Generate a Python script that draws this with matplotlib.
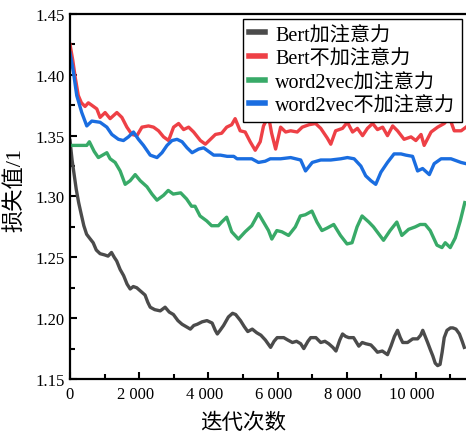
import numpy as np
import matplotlib
matplotlib.use("Agg")
import matplotlib.pyplot as plt
import matplotlib.transforms as mtransforms
from matplotlib.ticker import MultipleLocator, FuncFormatter

plt.rcParams['font.family'] = ['Liberation Serif', 'Noto Sans CJK SC']

# Bert加注意力
x_bert_att = [0, 60, 120, 180, 250, 320, 400, 480, 560, 670, 760, 870, 1000, 1100, 1200, 1280, 1350,
              1450, 1550, 1650, 1740, 1830, 1930, 2050, 2170, 2250, 2320, 2450, 2610, 2750, 2870, 2990,
              3120, 3240, 3360, 3480, 3580, 3680, 3820, 3960, 4110, 4200, 4260, 4340, 4440, 4580, 4700,
              4790, 4930, 5040, 5140, 5270, 5400, 5520, 5650, 5800, 5900, 5990, 6180, 6300, 6430, 6550,
              6670, 6760, 6880, 6960, 7110, 7250, 7370, 7480, 7600, 7690, 7800, 7880, 7970, 8060, 8200,
              8350, 8450, 8550, 8700, 8800, 8890, 9030, 9180, 9280, 9380, 9470, 9550, 9620, 9760, 9910,
              10050, 10140, 10200, 10270, 10340, 10420, 10490, 10560, 10630, 10700, 10760, 10820, 10900,
              11000, 11070, 11160, 11260, 11340, 11400]
y_bert_att = [1.346, 1.330, 1.318, 1.306, 1.295, 1.286, 1.276, 1.269, 1.266, 1.262, 1.256, 1.253, 1.252,
              1.251, 1.254, 1.250, 1.247, 1.240, 1.235, 1.228, 1.224, 1.226, 1.225, 1.222, 1.219, 1.213,
              1.209, 1.207, 1.206, 1.209, 1.205, 1.203, 1.198, 1.195, 1.193, 1.191, 1.194, 1.195, 1.197,
              1.198, 1.196, 1.190, 1.187, 1.190, 1.194, 1.201, 1.204, 1.203, 1.198, 1.193, 1.189, 1.191,
              1.188, 1.186, 1.182, 1.176, 1.181, 1.184, 1.184, 1.182, 1.180, 1.181, 1.179, 1.175, 1.181,
              1.184, 1.184, 1.180, 1.181, 1.179, 1.176, 1.173, 1.182, 1.187, 1.185, 1.184, 1.184, 1.177,
              1.180, 1.179, 1.178, 1.175, 1.172, 1.173, 1.170, 1.177, 1.185, 1.190, 1.184, 1.180, 1.180,
              1.183, 1.183, 1.186, 1.190, 1.185, 1.180, 1.174, 1.169, 1.163, 1.161, 1.162, 1.172, 1.184,
              1.190, 1.192, 1.192, 1.191, 1.187, 1.181, 1.176]

# Bert不加注意力
x_bert_noatt = [0, 80, 150, 240, 330, 435, 530, 630, 775, 870, 1015, 1160, 1355, 1500, 1645, 1790, 1935,
                2080, 2270, 2415, 2560, 2705, 2850, 2995, 3140, 3285, 3430, 3575, 3770, 3915, 4060, 4205,
                4385, 4530, 4675, 4775, 4920, 5065, 5210, 5355, 5500, 5595, 5740, 5830, 5945, 6090, 6235,
                6380, 6570, 6715, 6910, 7100, 7250, 7440, 7540, 7680, 7880, 8020, 8170, 8310, 8460, 8600,
                8750, 8890, 9040, 9180, 9330, 9470, 9660, 9860, 10000, 10150, 10240, 10440, 10630, 10820,
                10970, 11110, 11310, 11450]
y_bert_noatt = [1.425, 1.412, 1.398, 1.383, 1.377, 1.374, 1.377, 1.375, 1.372, 1.365, 1.369, 1.364, 1.369,
                1.365, 1.357, 1.351, 1.350, 1.357, 1.358, 1.357, 1.354, 1.349, 1.346, 1.357, 1.360, 1.355,
                1.357, 1.353, 1.346, 1.343, 1.347, 1.351, 1.352, 1.357, 1.359, 1.364, 1.354, 1.353, 1.345,
                1.338, 1.345, 1.358, 1.366, 1.352, 1.339, 1.357, 1.353, 1.354, 1.353, 1.357, 1.359, 1.360,
                1.356, 1.348, 1.343, 1.354, 1.356, 1.361, 1.353, 1.356, 1.350, 1.356, 1.360, 1.355, 1.357,
                1.350, 1.358, 1.354, 1.347, 1.349, 1.346, 1.351, 1.342, 1.353, 1.357, 1.360, 1.365, 1.354,
                1.354, 1.357]

# word2vec加注意力
x_w2v_att = [0, 270, 485, 560, 630, 700, 820, 1065, 1160, 1305, 1450, 1595, 1740, 1885, 2030, 2225, 2370,
             2515, 2705, 2840, 2985, 3200, 3370, 3515, 3615, 3760, 3950, 4095, 4290, 4385, 4530, 4675,
             4870, 5065, 5255, 5450, 5595, 5740, 5835, 5980, 6125, 6320, 6515, 6660, 6805, 6995, 7140,
             7285, 7430, 7625, 7820, 8010, 8155, 8300, 8445, 8640, 8775, 9065, 9255, 9450, 9595, 9790,
             9980, 10125, 10270, 10415, 10610, 10755, 10850, 10995, 11140, 11285, 11415]
y_w2v_att = [1.342, 1.342, 1.342, 1.345, 1.341, 1.337, 1.332, 1.336, 1.331, 1.328, 1.321, 1.310, 1.313,
             1.318, 1.313, 1.308, 1.302, 1.297, 1.301, 1.305, 1.302, 1.303, 1.298, 1.292, 1.292, 1.284,
             1.280, 1.276, 1.276, 1.279, 1.283, 1.271, 1.265, 1.271, 1.276, 1.286, 1.279, 1.272, 1.265,
             1.272, 1.271, 1.268, 1.275, 1.284, 1.285, 1.288, 1.279, 1.272, 1.274, 1.277, 1.268, 1.261,
             1.262, 1.275, 1.284, 1.279, 1.275, 1.264, 1.272, 1.279, 1.268, 1.273, 1.275, 1.277, 1.277,
             1.272, 1.260, 1.258, 1.262, 1.258, 1.266, 1.280, 1.295]

# word2vec不加注意力
x_w2v_noatt = [0, 100, 195, 340, 485, 630, 870, 1065, 1210, 1400, 1545, 1690, 1835, 1980, 2125, 2320,
               2515, 2660, 2805, 2950, 3095, 3240, 3385, 3530, 3720, 3865, 4010, 4155, 4350, 4545, 4735,
               4830, 4965, 5255, 5450, 5645, 5790, 6090, 6380, 6670, 6810, 7005, 7250, 7540, 7830, 8020,
               8215, 8410, 8550, 8700, 8840, 8990, 9180, 9370, 9570, 9710, 9905, 10050, 10195, 10390,
               10530, 10730, 11015, 11305, 11450]
y_w2v_noatt = [1.418, 1.402, 1.383, 1.369, 1.358, 1.362, 1.361, 1.357, 1.351, 1.347, 1.346, 1.349, 1.353,
               1.347, 1.342, 1.334, 1.332, 1.336, 1.342, 1.346, 1.347, 1.345, 1.340, 1.336, 1.339, 1.340,
               1.337, 1.334, 1.334, 1.333, 1.333, 1.331, 1.331, 1.331, 1.328, 1.329, 1.331, 1.331, 1.332,
               1.330, 1.321, 1.328, 1.330, 1.330, 1.331, 1.332, 1.331, 1.325, 1.317, 1.313, 1.310, 1.320,
               1.328, 1.335, 1.335, 1.334, 1.333, 1.321, 1.323, 1.318, 1.327, 1.331, 1.331, 1.328, 1.327]

labels = ['Bert加注意力', 'Bert不加注意力', 'word2vec加注意力', 'word2vec不加注意力']
colors = ['#4b4b4b', '#ee4046', '#38aa68', '#1a6de0']

fig = plt.figure(figsize=(4.66, 4.35), dpi=100)
ax = fig.add_axes([70 / 466, 1 - 380 / 435, 1 - 70 / 466, (380 - 15) / 435])

series = [(x_bert_att, y_bert_att), (x_bert_noatt, y_bert_noatt),
          (x_w2v_att, y_w2v_att), (x_w2v_noatt, y_w2v_noatt)]
for (xs, ys), lab, col in zip(series, labels, colors):
    ax.plot(xs, ys, color=col, lw=2.4, label=lab)

ax.set_xlim(0, 11450)
ax.set_ylim(1.15, 1.45)
ax.xaxis.set_major_locator(MultipleLocator(2000))
ax.xaxis.set_minor_locator(MultipleLocator(1000))
ax.yaxis.set_major_locator(MultipleLocator(0.05))
ax.yaxis.set_minor_locator(MultipleLocator(0.025))
ax.xaxis.set_major_formatter(FuncFormatter(lambda v, p: f"{int(v):,}".replace(",", " ")))
ax.yaxis.set_major_formatter(FuncFormatter(lambda v, p: f"{v:.2f}"))
ax.tick_params(which='both', direction='in', width=1.5, labelsize=12, pad=4)
ax.tick_params(axis='x', pad=5)
ax.tick_params(which='major', length=5)
ax.tick_params(which='minor', length=3.5)

# x tick labels sit a little left of their ticks in the original
shift = mtransforms.ScaledTranslation(-4 / 100, 0, fig.dpi_scale_trans)
for lbl in ax.get_xticklabels():
    if lbl.get_text() not in ('0', ''):
        lbl.set_transform(lbl.get_transform() + shift)

for s in ['left', 'bottom', 'top']:
    ax.spines[s].set_linewidth(1.6)
ax.spines['right'].set_visible(False)

fig.text(243.5 / 466, 1 - 423.5 / 435, '迭代次数', ha='center', va='center', fontsize=15.5)
fig.text(15 / 466, 1 - 190 / 435, '损失值/1', ha='center', va='center', rotation=90, fontsize=16)

leg = ax.legend(loc='upper left', bbox_to_anchor=(242.7 / 466, 1 - 20 / 435),
                bbox_transform=fig.transFigure, borderaxespad=0, fontsize=14.5,
                fancybox=False, framealpha=1, edgecolor='black', handlelength=0.8,
                handletextpad=0.5, labelspacing=0.22, borderpad=0.32)
leg.get_frame().set_linewidth(1.0)
for ln in leg.get_lines():
    ln.set_linewidth(4)

fig.savefig('out.png', dpi=100)
